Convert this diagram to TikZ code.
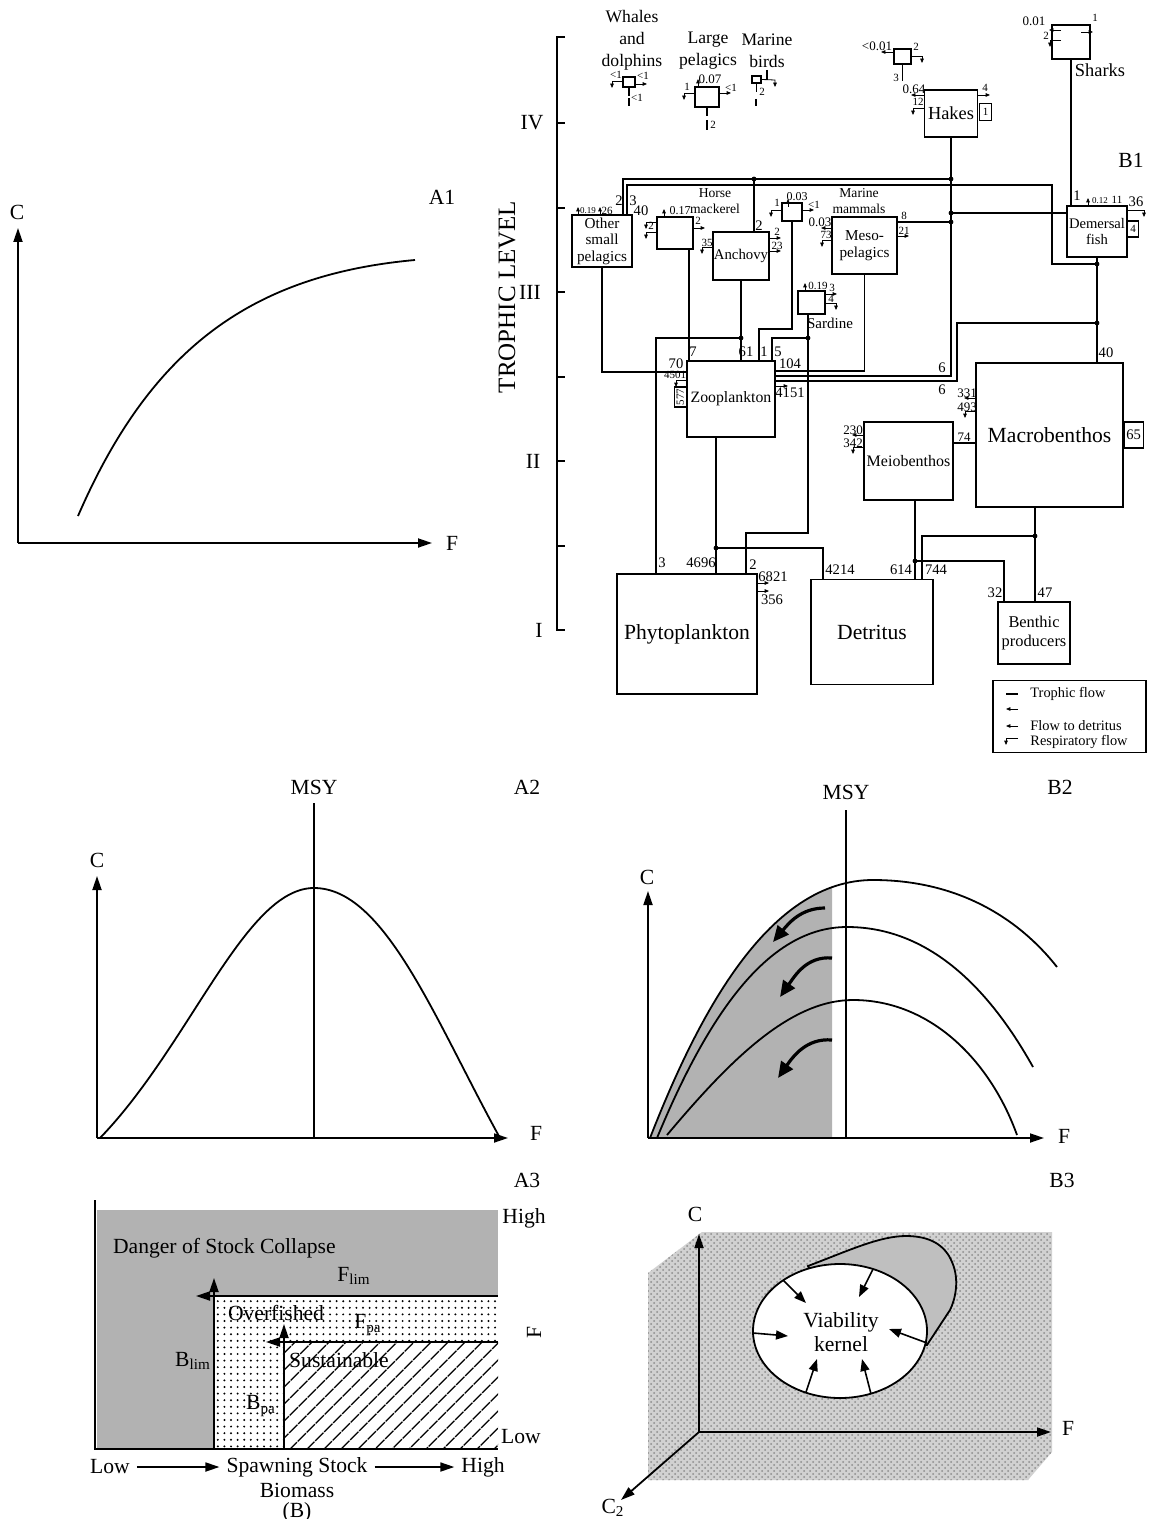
\documentclass[tikz,border=0pt]{standalone}
\usepackage{fontspec}
\setmainfont{Liberation Serif}
\usetikzlibrary{arrows.meta,patterns,patterns.meta}

\newcommand{\respflow}[2]{\draw[smarr] (#1,#2) -- ++(-11,0) -- ++(0,7);}
\newcommand{\resprflow}[2]{\draw[smarr] (#1,#2) -- ++(11,0) -- ++(0,7);}
\newcommand{\outflow}[2]{\draw[smarr] (#1,#2) -- ++(12,0);}
\newcommand{\inflow}[2]{\draw[smarr] (#1,#2) -- ++(-12,0);}
\newcommand{\upflow}[2]{\draw[smarr] (#1,#2) -- ++(0,-8);}

\begin{document}
\begin{tikzpicture}[x=0.5pt,y=-0.5pt,
  bx/.style={draw,rectangle,inner sep=0pt,align=center,line width=0.6pt},
  big/.style={font=\fontsize{10.8}{12}\selectfont},
  lab/.style={align=center,inner sep=0pt},
  num/.style={font=\fontsize{7.3}{8}\selectfont,inner sep=0pt},
  sml/.style={font=\fontsize{5.5}{6}\selectfont,inner sep=0pt},
  axarr/.style={line width=0.9pt,-{Triangle[length=7pt,width=4.5pt]}},
  fline/.style={line width=0.9pt},
  flow/.style={line width=0.55pt},
  jdot/.style={circle,fill,inner sep=0pt,minimum size=2.4pt},
  smarr/.style={line width=0.4pt,-{Triangle[length=2.2pt,width=1.8pt]}},
  swarr/.style={line width=1.6pt,-{Triangle[length=8pt,width=7pt]}},
  karr/.style={line width=0.8pt,-{Triangle[length=6pt,width=4.5pt]}}
]
\useasboundingbox (0,0) rectangle (1149,1519);

% ---------------- A1
\draw[axarr] (18,543) -- (18,228);
\draw[axarr] (18,543) -- (432,543);
\node[big] (a1c) at (17,212) {C};
\node[big] (a1f) at (452,543) {F};
\node[big] (a1t) at (442,197) {A1};
\draw[fline] (78,516) .. controls (150,350) and (250,275) .. (415,260);

% ---------------- A2
\node[big] (a2m) at (314,787) {MSY};
\node[big] (a2t) at (527,787) {A2};
\draw[fline] (314,803) -- (314,1138);
\draw[axarr] (97,1138) -- (97,876);
\draw[axarr] (97,1138) -- (508,1138);
\node[big] (a2c) at (97,860) {C};
\node[big] (a2f) at (536,1133) {F};
\draw[fline] (100,1138) .. controls (190,1045) and (245,888) .. (314,888) .. controls (385,888) and (435,1020) .. (500,1138);

% ---------------- B2
\node[big] (b2m) at (846,792) {MSY};
\node[big] (b2t) at (1060,787) {B2};
\begin{scope}
\clip (640,860) rectangle (832,1140);
\fill[black!30] (650,1138) .. controls (700,1010) and (770,880) .. (873,880) -- (873,1138) -- cycle;
\end{scope}
\draw[fline] (846,810) -- (846,1138);
\draw[axarr] (648,1138) -- (648,891);
\draw[axarr] (648,1138) -- (1044,1138);
\node[big] (b2c) at (647,877) {C};
\node[big] (b2f) at (1064,1136) {F};
\draw[fline] (650,1138) .. controls (700,1010) and (770,880) .. (873,880) .. controls (960,880) and (1020,920) .. (1057,967);
\draw[fline] (657,1138) .. controls (710,1010) and (770,927) .. (847,927) .. controls (930,927) and (990,990) .. (1033,1067);
\draw[fline] (667,1135) .. controls (730,1060) and (790,1000) .. (853,1000) .. controls (930,1000) and (990,1060) .. (1017,1135);
\draw[swarr] (825,908) to[out=180,in=50] (773,942);
\draw[swarr] (832,958) to[out=175,in=55] (780,997);
\draw[swarr] (832,1040) to[out=175,in=55] (778,1078);

% ---------------- A3
\node[big] (a3t) at (527,1180) {A3};
\fill[black!30] (97,1210) rectangle (498,1449);
\fill[white] (214,1296) rectangle (498,1449);
\fill[pattern={Dots[radius=0.55pt,distance=3.3pt]}] (214,1296) rectangle (498,1449);
\fill[white] (284,1342) rectangle (498,1449);
\fill[pattern={Lines[angle=45,distance=6.5pt,line width=0.8pt]}] (284,1342) rectangle (498,1449);
\draw[fline] (95,1200) -- (95,1449) -- (498,1449);
\draw[fline] (214,1449) -- (214,1296) -- (498,1296);
\draw[fline] (284,1449) -- (284,1342) -- (498,1342);
\draw[axarr] (214,1296) -- (214,1278);
\draw[axarr] (214,1296) -- (196,1296);
\draw[axarr] (284,1342) -- (284,1324);
\draw[axarr] (284,1342) -- (266,1342);
\node[big] (a3hi) at (524,1218) {High};
\node[big,anchor=west] (a3dz) at (106,1248) {Danger of Stock Collapse};
\node[big] (a3fl) at (354,1276) {F\textsubscript{lim}};
\node[big] (a3ov) at (276,1313) {Overfished};
\node[big] (a3fp) at (368,1325) {F\textsubscript{pa}};
\node[big] (a3bl) at (193,1361) {B\textsubscript{lim}};
\node[big] (a3su) at (339,1360) {Sustainable};
\node[big] (a3bp) at (261,1406) {B\textsubscript{pa}};
\node[big] (a3lo) at (521,1437) {Low};
\node[big,rotate=90] (a3f) at (534,1332) {F};
\node[big] (a3l2) at (110,1467) {Low};
\node[big] (a3ss) at (297,1467) {Spawning Stock};
\node[big] (a3h2) at (483,1467) {High};
\node[big] (a3bm) at (297,1490) {Biomass};
\node[big] (a3b) at (297,1512) {(B)};
\draw[axarr] (a3l2) -- (a3ss);
\draw[axarr] (a3ss) -- (a3h2);

% ---------------- B3
\node[big] (b3t) at (1062,1180) {B3};
\fill[black!18] (648,1273) -- (702,1232) -- (1052,1232) -- (1052,1452) -- (1028,1480) -- (648,1480) -- cycle;
\fill[pattern=crosshatch dots,pattern color=black!45] (648,1273) -- (702,1232) -- (1052,1232) -- (1052,1452) -- (1028,1480) -- (648,1480) -- cycle;
\filldraw[fill=black!25,line width=0.9pt] (808,1266) .. controls (850,1250) and (880,1236) .. (906,1236) .. controls (930,1236) and (945,1245) .. (952,1262) .. controls (960,1280) and (955,1300) .. (950,1310) -- (927,1345) -- (840,1331) -- cycle;
\filldraw[fill=white,line width=0.9pt] (840,1331) ellipse [x radius=43.5pt,y radius=33.5pt];
\draw[karr] (783,1280) -- (806,1303);
\draw[karr] (873,1269) -- (859,1297);
\draw[karr] (753,1333) -- (788,1336);
\draw[karr] (927,1343) -- (889,1329);
\draw[karr] (806,1392) -- (817,1359);
\draw[karr] (871,1394) -- (862,1359);
\node[big,align=center] (vk) at (841,1332) {Viability\\kernel};
\draw[axarr] (699,1432) -- (699,1234);
\draw[axarr] (699,1432) -- (1051,1432);
\draw[axarr] (699,1432) -- (621,1500);
\node[big] (b3c) at (695,1214) {C};
\node[big] (b3f) at (1068,1428) {F};
\node[big] (b3c2) at (613,1508) {C\textsubscript{2}};

% ---------------- B1 axis
\node[big] (b1t) at (1131,160) {B1};
\draw[line width=0.8pt] (565,37) -- (557,37) -- (557,630) -- (565,630);
\foreach \ty in {123,208,292,377,461,546}
  \draw[line width=0.8pt] (557,\ty) -- (565,\ty);
\node[big] (tiv) at (532,123) {IV};
\node[big] (tiii) at (530,292) {III};
\node[big] (tii) at (533,461) {II};
\node[big] (ti) at (539,630) {I};
\node[rotate=90,font=\fontsize{12.5}{13}\selectfont] (tlev) at (507,297) {TROPHIC LEVEL};

% ---------------- B1 boxes
\node[bx,big,minimum width=70pt,minimum height=60pt] (phyto) at (687,634) {Phytoplankton};
\node[bx,big,minimum width=61pt,minimum height=52.5pt] (detr) at (872,632) {Detritus};
\node[bx,font=\fontsize{8.2}{9.5}\selectfont,minimum width=36pt,minimum height=31pt] (benthp) at (1034,633) {Benthic\\producers};
\node[bx,font=\fontsize{7.9}{9}\selectfont,minimum width=44pt,minimum height=38pt] (zoo) at (731,399) {Zooplankton};
\node[bx,font=\fontsize{8}{9}\selectfont,minimum width=44.5pt,minimum height=39pt] (meio) at (908.5,461) {Meiobenthos};
\node[bx,big,minimum width=73.5pt,minimum height=72pt] (macro) at (1049.5,435) {Macrobenthos};
\node[bx,font=\fontsize{7.6}{8.3}\selectfont,minimum width=30pt,minimum height=26pt] (osp) at (602,241) {Other\\small\\pelagics};
\node[bx,minimum width=18pt,minimum height=16pt] (hmack) at (675,233) {};
\node[bx,font=\fontsize{7.4}{8}\selectfont,minimum width=28pt,minimum height=24pt] (anch) at (741,256) {Anchovy};
\node[bx,minimum width=10pt,minimum height=9pt] (mmam) at (792,212) {};
\node[bx,font=\fontsize{7.6}{8.3}\selectfont,minimum width=32.5pt,minimum height=28.5pt] (meso) at (864.5,245.5) {Meso-\\pelagics};
\node[bx,minimum width=13.5pt,minimum height=11.5pt] (sard) at (811.5,302.5) {};
\node[bx,font=\fontsize{7.3}{8.2}\selectfont,minimum width=30pt,minimum height=25.5pt] (demf) at (1097,231.5) {Demersal\\fish};
\node[bx,font=\fontsize{9.2}{10}\selectfont,minimum width=26.5pt,minimum height=23.5pt] (hakes) at (951,113.5) {Hakes};
\node[bx,minimum width=19pt,minimum height=17pt] (sharks) at (1071,42) {};
\node[bx,minimum width=8.5pt,minimum height=7.5pt] (unk) at (902.5,56.5) {};
\node[bx,minimum width=6pt,minimum height=5pt] (whale) at (629,82) {};
\node[bx,minimum width=12pt,minimum height=10pt] (lpel) at (707,97) {};
\node[bx,minimum width=4.5pt,minimum height=3.5pt] (mbird) at (756.5,79.5) {};
\node[bx,num,minimum width=9.5pt,minimum height=13pt,anchor=west] (mac65) at (macro.east) {65};
\node[bx,sml,minimum width=6pt,minimum height=8.5pt,anchor=west] (hak1) at (979,112) {1};
\node[bx,sml,minimum width=5.5pt,minimum height=8pt,anchor=west] (dem4) at (1127,229) {4};
\node[bx,sml,rotate=90,minimum width=10pt,minimum height=6pt,anchor=south] (zoo577) at (687,397) {577};

% names outside boxes
\node[lab,font=\fontsize{8.8}{11}\selectfont] (whalet) at (632,40) {Whales\\and\\dolphins};
\node[lab,font=\fontsize{8.8}{11}\selectfont] (lpelt) at (708,51) {Large\\pelagics};
\node[lab,font=\fontsize{8.8}{11}\selectfont] (mbirdt) at (767,51) {Marine\\birds};
\node[lab,font=\fontsize{6.8}{8}\selectfont] (hmackt) at (715,201) {Horse\\mackerel};
\node[lab,font=\fontsize{6.8}{8}\selectfont] (mmamt) at (859,201) {Marine\\mammals};
\node[lab,font=\fontsize{7.5}{8}\selectfont] (sardt) at (830,323) {Sardine};
\node[lab,font=\fontsize{9.2}{10}\selectfont] (sharkt) at (1100,70) {Sharks};

% junctions
\coordinate (jh1) at (951,179);
\coordinate (jh2) at (951,213);
\coordinate (jh3) at (951,222);
\coordinate (z6a) at (775,376);
\coordinate (z6b) at (775,381);
\coordinate (o2) at (623,215);
\coordinate (o3) at (627,215);
\coordinate (jd1) at (1052,185);
\coordinate (jd3) at (1097,264);
\coordinate (jd4) at (1097,323);
\coordinate (jd5) at (957,381);
\coordinate (ja) at (754,179);
\coordinate (ja2) at (741,338);
\coordinate (o70) at (687,372);
\coordinate (hm7) at (689,361);
\coordinate (mm2) at (759,329);
\coordinate (sd) at (808,314);
\coordinate (sd3) at (808,533);
\coordinate (js) at (808,338);
\coordinate (z5) at (772,361);
\coordinate (p2) at (746,574);
\coordinate (p3) at (656,574);
\coordinate (z104) at (775,371);
\coordinate (jz) at (716,548);
\coordinate (d1) at (823,579);
\coordinate (jm) at (915,561);
\coordinate (b32) at (1004,602);
\coordinate (jma) at (1035,536);
\coordinate (d744) at (922,579);
\coordinate (m74) at (953,443);

% trophic flows
\draw[flow] (hakes.south) |- (z6a);
\draw[flow] (o2) |- (jh1);
\draw[flow] (o3) |- (jd1) |- (jd3);
\draw[flow] (demf.south) -- (demf.south |- macro.north);
\draw[flow] (jd4) -| (jd5) -- (z6b);
\draw[flow] (jh2) -- (jh2 -| demf.west);
\draw[flow] (meso.east |- jh3) -- (jh3);
\draw[flow] (ja |- anch.north) -- (ja);
\draw[flow] (osp.south) |- (o70);
\draw[flow] (hm7 |- hmack.south) -- (hm7);
\draw[flow] (anch.south) -- (anch.south |- zoo.north);
\draw[flow] (ja2) -| (p3);
\draw[flow] (mmam.south) |- (mm2) -- (mm2 |- zoo.north);
\draw[flow] (sd) -- (sd3) -| (p2);
\draw[flow] (js) -| (z5);
\draw[flow] (meso.south) |- (z104);
\draw[flow] (zoo.south -| jz) -- (jz |- phyto.north);
\draw[flow] (jz) -| (d1);
\draw[flow] (jm |- meio.south) -- (jm |- detr.north);
\draw[flow] (jm) -| (b32);
\draw[flow] (jma |- macro.south) -- (jma |- benthp.north);
\draw[flow] (jma) -| (d744);
\draw[flow] (m74) -- (m74 -| macro.west);
\draw[flow] (sharks.south) -- (sharks.south |- demf.north);
\foreach \j in {jh1,jh2,jh3,ja,jd3,jd4,ja2,js,jz,jm,jma}
  \node[jdot] at (\j) {};

% top predators
\respflow{623}{81}
\outflow{635}{84}
\draw[flow] (whale.south) -- ++(0,8);
\draw[flow] (629,98) -- (629,106);
\node[sml] at (616,75) {<1};
\node[sml] at (643,76) {<1};
\node[sml] at (637,98) {<1};
\upflow{698}{87}
\node[sml,font=\fontsize{6.5}{7}\selectfont] at (710,79) {0.07};
\respflow{695}{93}
\node[sml] at (687,87) {1};
\outflow{719}{93}
\node[sml] at (731,88) {<1};
\draw[flow] (lpel.south) -- ++(0,8);
\draw[flow] (707,120) -- (707,130);
\node[sml] at (713,125) {2};
\draw[smarr] (mbird.east) -- (775,80) -- (775,87);
\draw[flow] (767,70) -- (767,80);
\draw[flow] (mbird.south) -- ++(0,8);
\draw[flow] (756,99) -- (756,106);
\node[sml] at (762,92) {2};
\draw[smarr] (unk.west |- 0,52) -- (881,52);
\node[sml,font=\fontsize{6.5}{7}\selectfont] at (877,46) {<0.01};
\node[sml] at (916,47) {2};
\resprflow{911}{56}
\draw[flow] (unk.south) -- ++(0,16);
\node[sml] at (896,78) {3};
\draw[smarr] (924,95) -- (911,95);
\node[sml,font=\fontsize{6.5}{7}\selectfont] at (914,89) {0.64};
\node[sml] at (918,102) {12};
\respflow{924}{108}
\node[sml] at (985,88) {4};
\outflow{978}{95}
\node[sml,font=\fontsize{6.5}{7}\selectfont] at (1034,21) {0.01};
\draw[smarr] (1061,30) -- (1049,30);
\node[sml] at (1046,36) {2};
\respflow{1061}{40}
\node[sml] at (1095,18) {1};
\outflow{1081}{32}
\node[num] at (1077,196) {1};
\upflow{1088}{206}
\node[sml,font=\fontsize{4.5}{5}\selectfont] at (1100,201) {0.12};
\node[sml] at (1117,200) {11};
\node[num] at (1136,202) {36};
\draw[smarr] (1127,210) -- (1144,210) -- (1144,217);

% pelagic group
\upflow{578}{215}
\node[sml,font=\fontsize{4.5}{5}\selectfont] at (588,211) {0.19};
\upflow{600}{215}
\node[sml] at (607,211) {26};
\node[num] at (619,201) {2};
\node[num] at (633,201) {3};
\node[num] at (641,211) {40};
\upflow{664}{217}
\node[sml,font=\fontsize{6}{7}\selectfont] at (680,211) {0.17};
\respflow{657}{222}
\respflow{657}{232}
\node[sml] at (651,226) {2};
\node[sml] at (698,221) {2};
\outflow{693}{228}
\node[num] at (759,226) {2};
\node[sml] at (707,243) {35};
\respflow{713}{247}
\node[sml] at (777,232) {2};
\outflow{769}{238}
\node[sml] at (777,246) {23};
\outflow{769}{251}
\node[sml] at (777,203) {1};
\respflow{782}{210}
\upflow{788}{207}
\node[sml,font=\fontsize{6}{7}\selectfont] at (797,197) {0.03};
\node[sml] at (814,205) {<1};
\outflow{802}{210}
\node[sml,font=\fontsize{6.5}{7}\selectfont] at (820,222) {0.03};
\inflow{833}{228}
\node[sml] at (826,235) {73};
\respflow{833}{240}
\node[sml] at (904,216) {8};
\node[sml] at (904,231) {21};
\outflow{897}{236}
\upflow{805}{291}
\node[sml] at (818,286) {0.19};
\node[sml] at (832,288) {3};
\outflow{825}{294}
\node[sml] at (831,299) {4};
\resprflow{825}{303}

% zooplankton, benthos
\node[num] at (693,352) {7};
\node[num] at (746,352) {61};
\node[num] at (764,352) {1};
\node[num] at (778,352) {5};
\node[num] at (676,364) {70};
\node[sml] at (675,375) {4501};
\respflow{687}{380}
\node[num] at (790,364) {104};
\node[num] at (790,393) {4151};
\outflow{776}{386}
\node[num] at (942,368) {6};
\node[num] at (942,390) {6};
\node[sml,font=\fontsize{6.5}{7}\selectfont] at (853,430) {230};
\inflow{864}{435}
\node[sml,font=\fontsize{6.5}{7}\selectfont] at (853,443) {342};
\respflow{864}{447}
\node[num] at (1106,353) {40};
\node[sml,font=\fontsize{6.5}{7}\selectfont] at (967,393) {331};
\inflow{976}{398}
\node[sml,font=\fontsize{6.5}{7}\selectfont] at (967,407) {493};
\respflow{976}{411}
\node[sml,font=\fontsize{6.5}{7}\selectfont] at (964,437) {74};

% producers, detritus
\node[num] at (662,563) {3};
\node[num] at (701,563) {4696};
\node[num] at (753,565) {2};
\node[num] at (773,577) {6821};
\node[num] at (772,600) {356};
\outflow{757}{583}
\outflow{757}{591}
\node[num] at (840,570) {4214};
\node[num] at (901,570) {614};
\node[num] at (936,570) {744};
\node[num] at (995,593) {32};
\node[num] at (1045,593) {47};

% legend
\node[bx,minimum width=76.5pt,minimum height=36pt] (leg) at (1069.5,716.5) {};
\draw[flow] (1006,694) -- (1018,694);
\node[anchor=west,inner sep=0pt,font=\fontsize{7.2}{8}\selectfont] (lg1) at (1030,694) {Trophic flow};
\draw[smarr] (1018,709) -- (1006,709);
\draw[smarr] (1018,726) -- (1006,726);
\node[anchor=west,inner sep=0pt,font=\fontsize{7.2}{8}\selectfont] (lg3) at (1030,726) {Flow to detritus};
\draw[smarr] (1018,738) -- (1006,738) -- (1006,745);
\node[anchor=west,inner sep=0pt,font=\fontsize{7.2}{8}\selectfont] (lg4) at (1030,742) {Respiratory flow};
\end{tikzpicture}
\end{document}
